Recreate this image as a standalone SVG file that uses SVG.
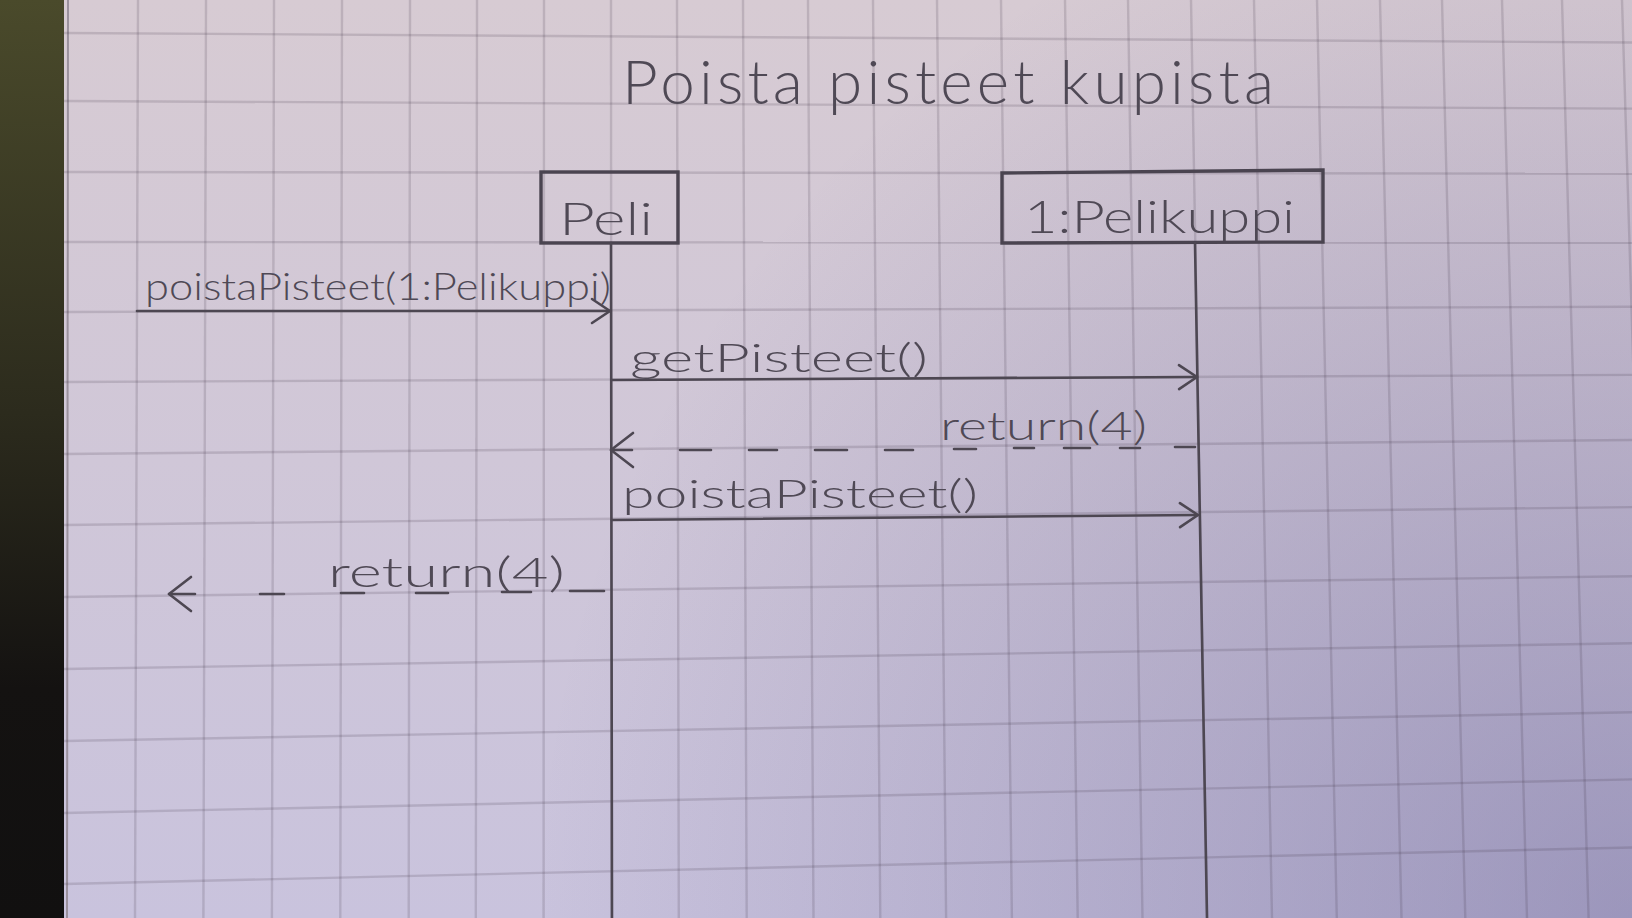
<svg xmlns="http://www.w3.org/2000/svg" width="1632" height="918" viewBox="0 0 1632 918">
<style>
.grid line{stroke:#3a3040;stroke-opacity:0.17;stroke-width:2.4}
.pen{fill:none;stroke:#4d4752;stroke-width:2.6;stroke-linecap:round;stroke-linejoin:round}
.box{fill:none;stroke:#4a4450;stroke-width:3.4}
.hand{font-family:"Lato","Liberation Sans",sans-serif;font-weight:300;fill:#4f4955}
</style>
<defs>
<linearGradient id="paperV" x1="0" y1="0" x2="0" y2="1">
<stop offset="0" stop-color="#d7cbd3"/>
<stop offset="1" stop-color="#c9c3dd"/>
</linearGradient>
<radialGradient id="shade" gradientUnits="userSpaceOnUse" cx="1632" cy="918" r="1100">
<stop offset="0" stop-color="#322d6e" stop-opacity="0.3"/>
<stop offset="1" stop-color="#322d6e" stop-opacity="0"/>
</radialGradient>
<linearGradient id="strip" x1="0" y1="0" x2="0" y2="1">
<stop offset="0" stop-color="#4a4a2b"/>
<stop offset="0.45" stop-color="#2c2b1d"/>
<stop offset="0.75" stop-color="#141211"/>
<stop offset="1" stop-color="#111010"/>
</linearGradient>
<marker id="head" markerUnits="userSpaceOnUse" markerWidth="22" markerHeight="28" refX="18" refY="12" orient="auto" overflow="visible">
<path d="M0,0 L18,12 L0,24" fill="none" stroke="#4d4752" stroke-width="2.6" stroke-linecap="round" stroke-linejoin="round"/>
</marker>
<marker id="headR" markerUnits="userSpaceOnUse" markerWidth="26" markerHeight="38" refX="22" refY="17" orient="auto-start-reverse" overflow="visible">
<path d="M0,0 L22,17 L0,34" fill="none" stroke="#4d4752" stroke-width="2.6" stroke-linecap="round" stroke-linejoin="round"/>
</marker>
</defs>

<g id="paper">
<rect x="64" y="0" width="1568" height="918" fill="url(#paperV)"/>
<rect x="64" y="0" width="1568" height="918" fill="url(#shade)"/>
<rect x="0" y="0" width="64" height="918" fill="url(#strip)"/>
<line x1="68" y1="0" x2="67" y2="918" stroke="#9a909c" stroke-width="2"/>
<g class="grid">
<line x1="64" y1="33" x2="1632" y2="42.5"/>
<line x1="64" y1="101" x2="1632" y2="108.6"/>
<line x1="64" y1="172" x2="1632" y2="173.7"/>
<line x1="64" y1="242" x2="1632" y2="242.8"/>
<line x1="64" y1="312" x2="1632" y2="306.8"/>
<line x1="64" y1="382" x2="1632" y2="374.9"/>
<line x1="64" y1="454" x2="1632" y2="440"/>
<line x1="64" y1="525" x2="1632" y2="507.1"/>
<line x1="64" y1="597" x2="1632" y2="576.2"/>
<line x1="64" y1="669" x2="1632" y2="643.3"/>
<line x1="64" y1="741" x2="1632" y2="712.3"/>
<line x1="64" y1="813" x2="1632" y2="779.4"/>
<line x1="64" y1="884" x2="1632" y2="847.5"/>
<line x1="138" y1="0" x2="135" y2="918"/>
<line x1="206" y1="0" x2="203.4" y2="918"/>
<line x1="274" y1="0" x2="271.9" y2="918"/>
<line x1="342" y1="0" x2="340.3" y2="918"/>
<line x1="410" y1="0" x2="408.7" y2="918"/>
<line x1="477" y1="0" x2="475.8" y2="918"/>
<line x1="544" y1="0" x2="543.6" y2="918"/>
<line x1="611" y1="0" x2="611.5" y2="918"/>
<line x1="677" y1="0" x2="678.8" y2="918"/>
<line x1="743" y1="0" x2="746.7" y2="918"/>
<line x1="808" y1="0" x2="813.5" y2="918"/>
<line x1="873" y1="0" x2="880.3" y2="918"/>
<line x1="937" y1="0" x2="946.1" y2="918"/>
<line x1="1001" y1="0" x2="1011.9" y2="918"/>
<line x1="1065" y1="0" x2="1077.7" y2="918"/>
<line x1="1128" y1="0" x2="1142.5" y2="918"/>
<line x1="1191" y1="0" x2="1207.2" y2="918"/>
<line x1="1254" y1="0" x2="1272" y2="918"/>
<line x1="1317" y1="0" x2="1336.8" y2="918"/>
<line x1="1380" y1="0" x2="1401.5" y2="918"/>
<line x1="1442" y1="0" x2="1465.3" y2="918"/>
<line x1="1502" y1="0" x2="1527" y2="918"/>
<line x1="1562" y1="0" x2="1588.6" y2="918"/>
<line x1="1622" y1="0" x2="1650.3" y2="918"/>
</g>
</g>

<g id="title">
<text class="hand" x="622" y="104" font-size="62" textLength="652" lengthAdjust="spacing">Poista pisteet kupista</text>
</g>

<g id="peli">
<rect class="box" x="541" y="172" width="137" height="71"/>
<text class="hand" x="559" y="235" font-size="46" textLength="94" lengthAdjust="spacingAndGlyphs">Peli</text>
<line class="pen" x1="611" y1="243" x2="612" y2="918"/>
</g>

<g id="pelikuppi">
<path class="box" d="M1002,173 L1323,170 L1323,242 L1002,243 Z"/>
<text class="hand" x="1024" y="233" font-size="46" textLength="271" lengthAdjust="spacingAndGlyphs">1:Pelikuppi</text>
<line class="pen" x1="1195" y1="243" x2="1207" y2="918"/>
</g>

<g id="connectors">
<g id="msg-poistaPisteet-in">
<line class="pen" x1="137" y1="311" x2="610" y2="311" marker-end="url(#head)"/>
<text class="hand" x="145" y="300" font-size="37" textLength="466" lengthAdjust="spacingAndGlyphs">poistaPisteet(1:Pelikuppi)</text>
</g>
<g id="msg-getPisteet">
<line class="pen" x1="612" y1="380" x2="1197" y2="377" marker-end="url(#head)"/>
<text class="hand" x="630" y="372" font-size="40" textLength="298" lengthAdjust="spacingAndGlyphs">getPisteet()</text>
</g>
<g id="ret-getPisteet">
<path class="pen" marker-start="url(#headR)" d="M611,450 L632,450 M680,450 L711,450 M749,450 L777,450 M815,450 L847,450 M885,450 L913,450 M954,449 L976,449 M1014,448 L1034,448 M1064,448 L1090,448 M1120,448 L1140,448 M1175,447 L1195,447"/>
<text class="hand" x="940" y="440" font-size="40" textLength="207" lengthAdjust="spacingAndGlyphs">return(4)</text>
</g>
<g id="msg-poistaPisteet">
<line class="pen" x1="612" y1="520" x2="1198" y2="515" marker-end="url(#head)"/>
<text class="hand" x="622" y="508" font-size="40" textLength="356" lengthAdjust="spacingAndGlyphs">poistaPisteet()</text>
</g>
<g id="ret-poistaPisteet">
<path class="pen" marker-start="url(#headR)" d="M169,594 L195,594 M260,594 L284,594 M341,593 L364,593 M416,593 L448,593 M502,592 L531,592 M570,591 L604,591"/>
<text class="hand" x="328" y="587" font-size="42" textLength="237" lengthAdjust="spacingAndGlyphs">return(4)</text>
</g>
</g>
</svg>
